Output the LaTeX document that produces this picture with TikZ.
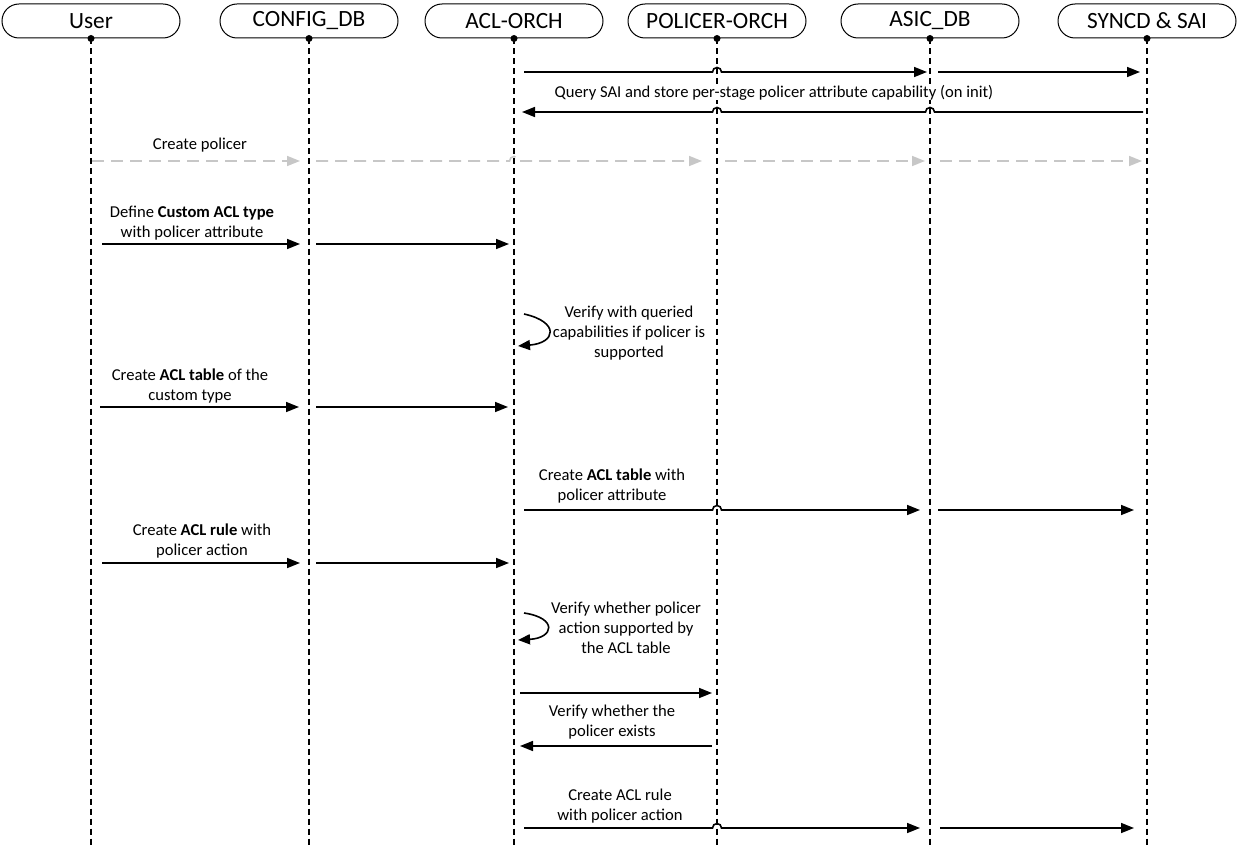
\documentclass[tikz,border=0pt]{standalone}
\usepackage{fontspec}
\setmainfont{Carlito}
\usetikzlibrary{arrows.meta}

\tikzset{
  actor/.style={draw, line width=1pt, rounded corners=17pt, minimum width=178pt,
    minimum height=34pt, inner sep=0pt, font=\fontsize{23.3}{25}\selectfont},
  life/.style={line width=1.4pt, dash pattern=on 6pt off 4pt},
  msg/.style={line width=1.6pt, -{Triangle[length=13pt,width=10pt]}},
  ghost/.style={msg, draw=black!22, dash pattern=on 12pt off 7pt},
  lbl/.style={font=\fontsize{16.6}{20}\selectfont, align=center, inner sep=0pt, fill=white, yshift=-2pt}
}
% small jumps where a message crosses a lifeline
\newcommand{\hopover}{arc[start angle=180,end angle=0,radius=4.5pt]}
\newcommand{\hopback}{arc[start angle=0,end angle=180,radius=4.5pt]}

\begin{document}
\begin{tikzpicture}[x=1pt,y=-1pt]
\useasboundingbox (0,0) rectangle (1239,845);

% actors
\node[actor] (user) at (91,21) {User};
\node[actor] (cfg) at (309,21) {CONFIG\_DB};
\node[actor] (acl) at (514,21) {ACL-ORCH};
\node[actor] (pol) at (717,21) {POLICER-ORCH};
\node[actor] (asic) at (930,21) {ASIC\_DB};
\node[actor] (sai) at (1147,21) {SYNCD \& SAI};

% lifelines
\foreach \a in {user,cfg,acl,pol,asic,sai}{
  \draw[life] (\a.south) -- (\a.south |- 0,845);
  \fill (\a.south) circle (3.5pt);
}

% capability query on init
\draw[msg] ([xshift=10pt]acl |- 0,72) -- ([xshift=-4.5pt]pol |- 0,72) \hopover -- ([xshift=-3pt]asic |- 0,72);
\draw[msg] ([xshift=8pt]asic |- 0,72) -- ([xshift=-7pt]sai |- 0,72);
\node[lbl] (query) at (774,91) {Query SAI and store per-stage policer attribute capability (on init)};
\draw[msg] ([xshift=-4pt]sai |- 0,112) -- ([xshift=4.5pt]asic |- 0,112) \hopback -- ([xshift=4.5pt]pol |- 0,112) \hopback -- ([xshift=8pt]acl |- 0,112);

% create policer
\node[lbl] (crpol) at (200,143) {Create policer};
\draw[ghost] ([xshift=1pt]user |- 0,161) -- ([xshift=-9pt]cfg |- 0,161);
\draw[ghost] ([xshift=7pt]cfg |- 0,161) -- ([xshift=-4.5pt]acl |- 0,161) \hopover -- ([xshift=-15pt]pol |- 0,161);
\draw[ghost] ([xshift=8pt]pol |- 0,161) -- ([xshift=-5pt]asic |- 0,161);
\draw[ghost] ([xshift=10pt]asic |- 0,161) -- ([xshift=-5pt]sai |- 0,161);

% custom acl type
\node[lbl] (deftype) at (192,221) {Define \textbf{Custom ACL type}\\with policer attribute};
\draw[msg] ([xshift=11pt]user |- 0,244) -- ([xshift=-9pt]cfg |- 0,244);
\draw[msg] ([xshift=7pt]cfg |- 0,244) -- ([xshift=-5pt]acl |- 0,244);

\draw[line width=1.6pt, -{Triangle[length=12pt,width=10pt]}] ([xshift=10pt]acl |- 0,314) .. controls (560,322) and (556,343) .. ([xshift=4pt]acl |- 0,346);
\node[lbl] (vercap) at (629,331) {Verify with queried\\capabilities if policer is\\supported};

% acl table
\node[lbl] (crtbl) at (190,384) {Create \textbf{ACL table} of the\\custom type};
\draw[msg] ([xshift=9pt]user |- 0,407) -- ([xshift=-10pt]cfg |- 0,407);
\draw[msg] ([xshift=7pt]cfg |- 0,407) -- ([xshift=-6pt]acl |- 0,407);

\node[lbl] (tblattr) at (612,484) {Create \textbf{ACL table} with\\policer attribute};
\draw[msg] ([xshift=10pt]acl |- 0,510) -- ([xshift=-4.5pt]pol |- 0,510) \hopover -- ([xshift=-10pt]asic |- 0,510);
\draw[msg] ([xshift=8pt]asic |- 0,510) -- ([xshift=-13pt]sai |- 0,510);

% acl rule
\node[lbl] (crrule) at (202,539) {Create \textbf{ACL rule} with\\policer action};
\draw[msg] ([xshift=11pt]user |- 0,563) -- ([xshift=-9pt]cfg |- 0,563);
\draw[msg] ([xshift=7pt]cfg |- 0,563) -- ([xshift=-5pt]acl |- 0,563);

\draw[line width=1.6pt, -{Triangle[length=12pt,width=10pt]}] ([xshift=10pt]acl |- 0,613) .. controls (558,618) and (554,638) .. ([xshift=4pt]acl |- 0,640);
\node[lbl] (veract) at (626,626) {Verify whether policer\\action supported by\\the ACL table};

\draw[msg] ([xshift=6pt]acl |- 0,693) -- ([xshift=-5pt]pol |- 0,693);
\node[lbl] (verpol) at (612,720) {Verify whether the\\policer exists};
\draw[msg] ([xshift=-5pt]pol |- 0,746) -- ([xshift=6pt]acl |- 0,746);

\node[lbl] (rulesai) at (620,804) {Create ACL rule\\with policer action};
\draw[msg] ([xshift=10pt]acl |- 0,828) -- ([xshift=-4.5pt]pol |- 0,828) \hopover -- ([xshift=-10pt]asic |- 0,828);
\draw[msg] ([xshift=10pt]asic |- 0,828) -- ([xshift=-13pt]sai |- 0,828);
\end{tikzpicture}
\end{document}
